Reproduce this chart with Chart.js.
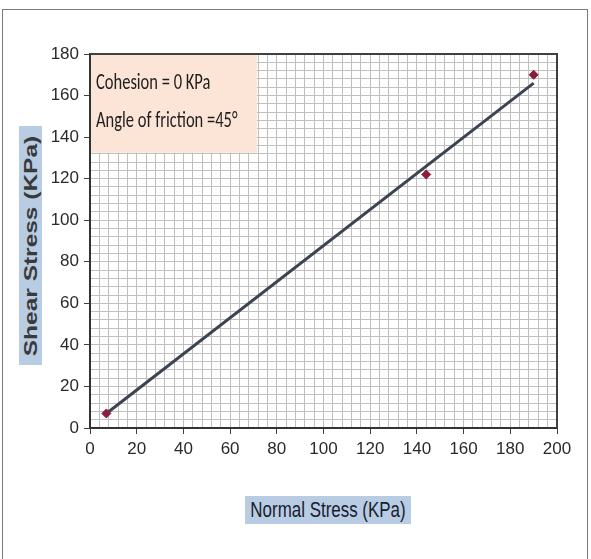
<!DOCTYPE html>
<html>
<head>
<meta charset="utf-8">
<script src="https://cdn.jsdelivr.net/npm/chart.js@4.4.1/dist/chart.umd.min.js"></script>
<style>
  html, body { margin: 0; padding: 0; background: #fff; }
  #wrap { position: relative; width: 591px; height: 559px; overflow: hidden; }
  #frame { position: absolute; left: 2px; top: 9px; width: 586px; height: 560px; border: 1px solid #7a7a7a; box-sizing: border-box; }
  #chart { position: absolute; left: 0; top: 0; }
  .axis-title { position: absolute; background: #b8cce4; white-space: nowrap; }
  #ytitle { left: 19px; top: 126px; width: 23px; height: 239px; }
  #ytitle span { position: absolute; left: 50%; top: 50%; font: bold 18px "Liberation Sans", Arial, sans-serif; color: #3a3a3a;
    transform: translate(-50%, -50%) rotate(-90deg) scaleX(1.36); }
  #xtitle { left: 245px; top: 496px; width: 166px; height: 28px; }
  #xtitle span { position: absolute; left: 50%; top: 50%; font: 22px "Liberation Sans", Arial, sans-serif; color: #18202e;
    transform: translate(-50%, -50%) scaleX(0.77); }
</style>
</head>
<body>
<div id="wrap">
  <div id="frame"></div>
  <canvas id="chart" width="591" height="559"></canvas>
  <div class="axis-title" id="ytitle"><span>Shear Stress (KPa)</span></div>
  <div class="axis-title" id="xtitle"><span>Normal Stress (KPa)</span></div>
</div>
<script>
(function () {
  "use strict";

  // ── Data ─────────────────────────────────────────────────────────
  const normalStress = [7, 144, 190];
  const shearStress = [7, 122, 170];
  const fitX = [7, 190];
  const fitY = [7, 166];
  const annotationLines = ["Cohesion = 0 KPa", "Angle of friction =45\u00B0"];
  const boxX = [0, 71.5];
  const boxY = [132.5, 180];

  function toPoints(xs, ys) {
    return xs.map(function (x, i) { return { x: x, y: ys[i] }; });
  }

  function isMajor(v) { return Math.round(v) % 20 === 0; }

  // ── Plugin: annotation box and plot frame ────────────────────────
  const boxPlugin = {
    id: "boxPlugin",
    beforeDatasetsDraw: function (chart) {
      const ctx = chart.ctx;
      const xs = chart.scales.x;
      const ys = chart.scales.y;
      const area = chart.chartArea;
      const l = xs.getPixelForValue(boxX[0]) + 1;
      const r = xs.getPixelForValue(boxX[1]);
      const t = ys.getPixelForValue(boxY[1]) + 1;
      const b = ys.getPixelForValue(boxY[0]);
      ctx.save();
      ctx.fillStyle = "#fce4d6";
      ctx.fillRect(l, t, r - l, b - t);

      ctx.fillStyle = "#1e1e1e";
      ctx.textBaseline = "middle";
      ctx.font = '22px Carlito, "DejaVu Sans Condensed", sans-serif';
      annotationLines.forEach(function (txt, i) {
        ctx.save();
        ctx.translate(l + 5, t + 28 + i * 38);
        ctx.scale(0.75, 1);
        ctx.fillText(txt, 0, 0);
        ctx.restore();
      });

      // top and right frame of the plot
      ctx.strokeStyle = "#404040";
      ctx.lineWidth = 2;
      ctx.beginPath();
      ctx.moveTo(area.left, area.top);
      ctx.lineTo(area.right, area.top);
      ctx.lineTo(area.right, area.bottom);
      ctx.stroke();
      ctx.restore();
    },
  };

  const tickFont = { family: '"Liberation Sans", Arial, sans-serif', size: 17 };

  function axis(max, fitFn) {
    return {
      type: "linear",
      min: 0,
      max: max,
      afterFit: fitFn,
      grid: {
        color: "#bfbfbf",
        lineWidth: 1,
        tickLength: 6,
        tickColor: function (c) { return c.tick && isMajor(c.tick.value) ? "#404040" : "rgba(0,0,0,0)"; },
      },
      border: { color: "#333", width: 2 },
      ticks: {
        stepSize: 4,
        maxTicksLimit: 100,
        autoSkip: false,
        maxRotation: 0,
        padding: 5,
        color: "#2a2a2a",
        font: tickFont,
        callback: function (v) { return isMajor(v) ? String(v) : ""; },
      },
    };
  }

  new Chart(document.getElementById("chart"), {
    type: "scatter",
    data: {
      datasets: [
        {
          label: "Fit",
          data: toPoints(fitX, fitY),
          showLine: true,
          borderColor: "#3b4450",
          borderWidth: 3,
          pointRadius: 0,
          order: 2,
        },
        {
          label: "Test",
          data: toPoints(normalStress, shearStress),
          pointStyle: "rectRot",
          pointRadius: 4.5,
          backgroundColor: "#8b1c3c",
          borderColor: "#8b1c3c",
          order: 1,
        },
      ],
    },
    options: {
      responsive: false,
      animation: false,
      layout: { padding: { left: 0, top: 54, right: 34, bottom: 0 } },
      plugins: { legend: { display: false }, tooltip: { enabled: false } },
      scales: {
        x: axis(200, function (s) { s.height = 131; }),
        y: axis(180, function (s) { s.width = 90; }),
      },
    },
    plugins: [boxPlugin],
  });
})();
</script>
</body>
</html>
